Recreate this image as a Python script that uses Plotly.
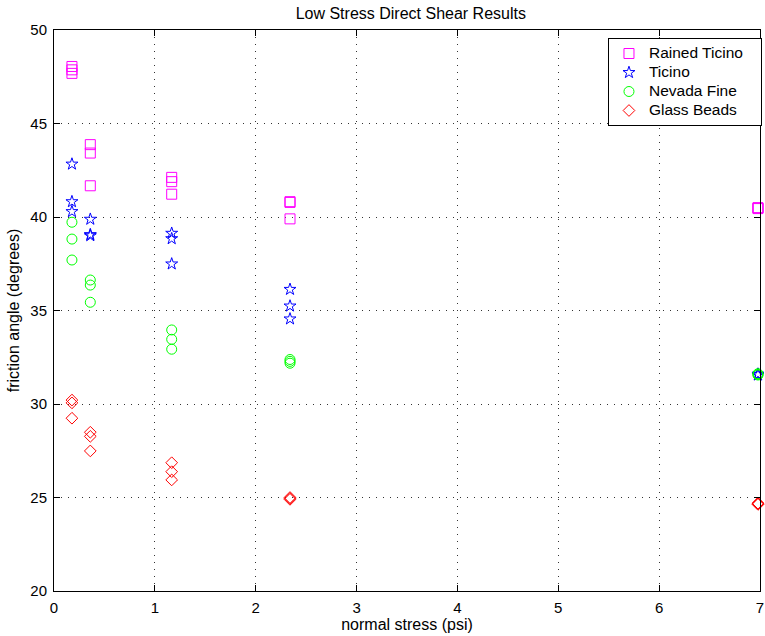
import plotly.graph_objects as go

# ---- data ----
rained_x = [0.178, 0.178, 0.178, 0.36, 0.36, 0.36, 1.167, 1.167, 1.167, 2.34, 2.34, 2.34, 6.98, 6.98, 6.98]
rained_y = [48.05, 47.87, 47.68, 43.87, 43.42, 41.67, 42.12, 41.89, 41.22, 40.82, 40.78, 39.9, 40.5, 40.48, 40.45]

ticino_x = [0.178, 0.178, 0.178, 0.36, 0.36, 0.36, 1.167, 1.167, 1.167, 2.34, 2.34, 2.34, 6.98, 6.98, 6.98]
ticino_y = [42.83, 40.82, 40.29, 39.88, 39.06, 39.0, 39.13, 38.84, 37.49, 36.13, 35.24, 34.55, 31.6, 31.58, 31.55]

nevada_x = [0.178, 0.178, 0.178, 0.36, 0.36, 0.36, 1.167, 1.167, 1.167, 2.34, 2.34, 2.34, 6.98, 6.98, 6.98]
nevada_y = [39.72, 38.82, 37.7, 36.63, 36.36, 35.44, 33.96, 33.46, 32.93, 32.38, 32.28, 32.18, 31.62, 31.58, 31.55]

glass_x = [0.178, 0.178, 0.178, 0.36, 0.36, 0.36, 1.167, 1.167, 1.167, 2.34, 2.34, 2.34, 6.98, 6.98, 6.98]
glass_y = [30.21, 30.06, 29.24, 28.49, 28.27, 27.49, 26.86, 26.38, 25.94, 25.0, 24.95, 24.9, 24.7, 24.66, 24.63]

x_ticks = [0, 1, 2, 3, 4, 5, 6, 7]
y_ticks = [20, 25, 30, 35, 40, 45, 50]

series = [
    ("Rained Ticino", rained_x, rained_y, "square-open", "#FF00FF", 10),
    ("Ticino", ticino_x, ticino_y, "star-open", "#0000FF", 9),
    ("Nevada Fine", nevada_x, nevada_y, "circle-open", "#00FF00", 10),
    ("Glass Beads", glass_x, glass_y, "diamond-open", "#FF0000", 9),
]

FONT = "Liberation Sans, Arial, sans-serif"

fig = go.Figure()
for name, xs, ys, sym, col, sz in series:
    fig.add_trace(go.Scatter(
        x=xs, y=ys, mode="markers",
        name='<span style="font-size:15.5px">' + name + "\u00a0\u00a0\u00a0</span>",
        marker=dict(symbol=sym, size=sz, color=col, line=dict(color=col, width=1)),
        cliponaxis=False,
    ))

axis_common = dict(
    showline=True, linecolor="black", linewidth=1, mirror="ticks",
    ticks="inside", ticklen=6, tickcolor="black",
    showgrid=True, gridcolor="#333333", gridwidth=1, griddash="1px,6px",
    zeroline=False, automargin=False, ticklabelstandoff=3,
    tickfont=dict(family=FONT, size=15, color="black"),
    title_font=dict(family=FONT, size=16, color="black"),
)

fig.update_layout(
    width=765, height=636,
    margin=dict(l=54, r=3, t=30, b=45),
    paper_bgcolor="white", plot_bgcolor="white",
    title=dict(text="Low Stress Direct Shear Results", x=0.537, xanchor="center",
               y=1 - 13 / 636, yanchor="middle",
               font=dict(family=FONT, size=16, color="black")),
    xaxis=dict(range=[0, 7], tickvals=x_ticks, title=dict(text="normal stress (psi)", standoff=0), **axis_common),
    yaxis=dict(range=[20, 50], tickvals=y_ticks, title=dict(text="friction angle (degrees)", standoff=6), **axis_common),
    legend=dict(x=1.0028, xanchor="right", y=1 - 8 / 561, yanchor="top", bgcolor="white",
                bordercolor="black", borderwidth=1,
                font=dict(family=FONT, size=11, color="black"),
                itemsizing="trace", tracegroupgap=0),
    showlegend=True,
)

fig.write_html("out.html",
               config={"displayModeBar": False},
               post_script="document.body.style.margin='0';document.body.style.overflow='hidden';")
